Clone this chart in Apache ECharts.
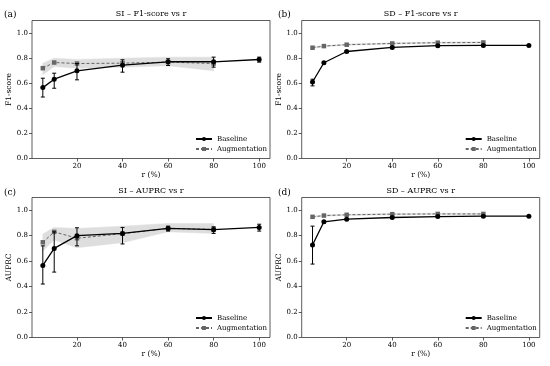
<!DOCTYPE html>
<html>
<head>
<meta charset="utf-8">
<script src="https://cdn.jsdelivr.net/npm/echarts@6/dist/echarts.min.js"></script>
<style>html,body{margin:0;padding:0;background:#fff}#c{width:550px;height:366px}</style>
</head>
<body>
<div id="c"></div>
<script>
// ---- data ----
const r = [5, 10, 20, 40, 60, 80, 100];
const rAug = [5, 10, 20, 40, 60, 80];
const xTicks = [20, 40, 60, 80, 100];
const yTicks = [0, 0.2, 0.4, 0.6, 0.8, 1.0];

// (a) SI F1
const siF1Base   = [0.565, 0.632, 0.699, 0.744, 0.771, 0.771, 0.789];
const siF1BaseLo = [0.490, 0.560, 0.627, 0.688, 0.741, 0.728, 0.768];
const siF1BaseHi = [0.640, 0.680, 0.757, 0.787, 0.795, 0.808, 0.808];
const siF1Aug    = [0.720, 0.765, 0.757, 0.760, 0.768, 0.757];
const siF1AugLo  = [0.667, 0.733, 0.720, 0.728, 0.739, 0.700];
const siF1AugHi  = [0.760, 0.800, 0.790, 0.800, 0.808, 0.808];
// (b) SD F1
const sdF1Base   = [0.610, 0.763, 0.853, 0.885, 0.899, 0.901, 0.901];
const sdF1BaseLo = [0.579, 0.756, 0.848, 0.879, 0.894, 0.896, 0.896];
const sdF1BaseHi = [0.632, 0.770, 0.858, 0.891, 0.904, 0.906, 0.906];
const sdF1Aug    = [0.883, 0.896, 0.907, 0.917, 0.923, 0.925];
const sdF1AugLo  = [0.877, 0.891, 0.902, 0.912, 0.918, 0.920];
const sdF1AugHi  = [0.889, 0.901, 0.912, 0.922, 0.928, 0.930];
// (c) SI AUPRC
const siAuBase   = [0.566, 0.700, 0.800, 0.818, 0.857, 0.847, 0.865];
const siAuBaseLo = [0.420, 0.514, 0.720, 0.735, 0.836, 0.818, 0.836];
const siAuBaseHi = [0.720, 0.830, 0.862, 0.865, 0.875, 0.870, 0.890];
const siAuAug    = [0.748, 0.830, 0.780, 0.816, 0.857, 0.850];
const siAuAugLo  = [0.680, 0.766, 0.706, 0.745, 0.830, 0.818];
const siAuAugHi  = [0.813, 0.865, 0.857, 0.875, 0.896, 0.896];
// (d) SD AUPRC
const sdAuBase   = [0.727, 0.909, 0.930, 0.943, 0.950, 0.953, 0.953];
const sdAuBaseLo = [0.577, 0.900, 0.925, 0.938, 0.946, 0.949, 0.949];
const sdAuBaseHi = [0.875, 0.918, 0.935, 0.948, 0.955, 0.957, 0.957];
const sdAuAug    = [0.948, 0.958, 0.964, 0.969, 0.971, 0.971];
const sdAuAugLo  = [0.943, 0.953, 0.959, 0.964, 0.966, 0.966];
const sdAuAugHi  = [0.953, 0.963, 0.969, 0.974, 0.976, 0.976];

const panels = [
  {tag: '(a)', title: 'SI – F1-score vs r', yName: 'F1-score', base: siF1Base, bLo: siF1BaseLo, bHi: siF1BaseHi, aug: siF1Aug, aLo: siF1AugLo, aHi: siF1AugHi},
  {tag: '(b)', title: 'SD – F1-score vs r', yName: 'F1-score', base: sdF1Base, bLo: sdF1BaseLo, bHi: sdF1BaseHi, aug: sdF1Aug, aLo: sdF1AugLo, aHi: sdF1AugHi},
  {tag: '(c)', title: 'SI – AUPRC vs r', yName: 'AUPRC', base: siAuBase, bLo: siAuBaseLo, bHi: siAuBaseHi, aug: siAuAug, aLo: siAuAugLo, aHi: siAuAugHi},
  {tag: '(d)', title: 'SD – AUPRC vs r', yName: 'AUPRC', base: sdAuBase, bLo: sdAuBaseLo, bHi: sdAuBaseHi, aug: sdAuAug, aLo: sdAuAugLo, aHi: sdAuAugHi}
];

// ---- layout ----
const FONT = 'DejaVu Serif';
const boxes = [
  {left: 32, top: 20.5, width: 238, height: 138},
  {left: 301.7, top: 20.5, width: 238, height: 138},
  {left: 32, top: 197.5, width: 238, height: 140},
  {left: 301.7, top: 197.5, width: 238, height: 140}
];
const tagPos = [[4, 10.5], [278, 10.5], [4, 188.5], [278, 188.5]];

const grid = [], xAxis = [], yAxis = [], series = [], title = [], legend = [];

panels.forEach((p, i) => {
  const b = boxes[i];
  grid.push({left: b.left, top: b.top, width: b.width, height: b.height, show: true,
    borderColor: '#333', borderWidth: 0.8, backgroundColor: 'transparent', containLabel: false});
  xAxis.push({type: 'value', gridIndex: i, min: 0.25, max: 104.75,
    name: 'r (%)', nameLocation: 'middle', nameGap: 13,
    nameTextStyle: {fontFamily: FONT, fontSize: 7.5, color: '#000'},
    axisLine: {show: false}, splitLine: {show: false},
    axisTick: {show: true, length: 3, lineStyle: {color: '#333', width: 0.8}, customValues: xTicks},
    axisLabel: {fontFamily: FONT, fontSize: 7, color: '#000', margin: 4, customValues: xTicks}
  });
  yAxis.push({type: 'value', gridIndex: i, min: 0, max: 1.1,
    name: p.yName, nameLocation: 'middle', nameGap: 19,
    nameTextStyle: {fontFamily: FONT, fontSize: 7.5, color: '#000'},
    axisLine: {show: false}, splitLine: {show: false},
    axisTick: {show: true, length: 3, lineStyle: {color: '#333', width: 0.8}, customValues: yTicks},
    axisLabel: {fontFamily: FONT, fontSize: 7, color: '#000', margin: 4, customValues: yTicks,
      formatter: v => v.toFixed(1)}
  });
  title.push({text: p.title, left: b.left + b.width / 2, top: b.top - 11, textAlign: 'center', padding: 0,
    textStyle: {fontFamily: FONT, fontSize: 8, fontWeight: 'normal', color: '#000'}});
  title.push({text: p.tag, left: tagPos[i][0], top: tagPos[i][1], padding: 0,
    textStyle: {fontFamily: FONT, fontSize: 9, fontWeight: 'normal', color: '#000'}});

  // band (augmentation spread)
  const bandData = [];
  for (let k = 0; k < rAug.length - 1; k++) {
    bandData.push([rAug[k], p.aLo[k], p.aHi[k], rAug[k + 1], p.aLo[k + 1], p.aHi[k + 1]]);
  }
  series.push({type: 'custom', name: 'band' + i, xAxisIndex: i, yAxisIndex: i, z: 1, silent: true,
    data: bandData,
    renderItem: (params, api) => {
      const a1 = api.coord([api.value(0), api.value(1)]);
      const a2 = api.coord([api.value(0), api.value(2)]);
      const b1 = api.coord([api.value(3), api.value(4)]);
      const b2 = api.coord([api.value(3), api.value(5)]);
      return {type: 'polygon', shape: {points: [a1, b1, b2, a2]},
        style: {fill: '#dedede', stroke: '#dedede', lineWidth: 0.5}};
    }
  });

  // augmentation line
  series.push({type: 'line', name: 'Augmentation', xAxisIndex: i, yAxisIndex: i, z: 3,
    data: rAug.map((x, k) => [x, p.aug[k]]),
    symbol: 'rect', symbolSize: 4.5, showSymbol: true,
    itemStyle: {color: '#666'},
    lineStyle: {color: '#666', width: 1, type: [3, 2]}
  });

  // baseline error bars
  series.push({type: 'custom', name: 'err' + i, xAxisIndex: i, yAxisIndex: i, z: 4, silent: true,
    data: r.map((x, k) => [x, p.bLo[k], p.bHi[k]]),
    renderItem: (params, api) => {
      const lo = api.coord([api.value(0), api.value(1)]);
      const hi = api.coord([api.value(0), api.value(2)]);
      const w = 2;
      const st = {stroke: '#000', lineWidth: 1};
      return {type: 'group', children: [
        {type: 'line', shape: {x1: lo[0], y1: lo[1], x2: hi[0], y2: hi[1]}, style: st},
        {type: 'line', shape: {x1: lo[0] - w, y1: lo[1], x2: lo[0] + w, y2: lo[1]}, style: st},
        {type: 'line', shape: {x1: hi[0] - w, y1: hi[1], x2: hi[0] + w, y2: hi[1]}, style: st}
      ]};
    }
  });

  // baseline line
  series.push({type: 'line', name: 'Baseline', xAxisIndex: i, yAxisIndex: i, z: 5,
    data: r.map((x, k) => [x, p.base[k]]),
    symbol: 'circle', symbolSize: 5, showSymbol: true,
    itemStyle: {color: '#000'},
    lineStyle: {color: '#000', width: 1.3}
  });

  legend.push({data: ['Baseline', 'Augmentation'], orient: 'vertical',
    left: b.left + b.width - 75, top: b.top + b.height - 23,
    itemWidth: 16, itemHeight: 5, itemGap: 3, padding: 0, selectedMode: false,
    textStyle: {fontFamily: FONT, fontSize: 7, color: '#000'}
  });
});

const chart = echarts.init(document.getElementById('c'), null, {renderer: 'canvas'});
chart.setOption({animation: false, backgroundColor: '#fff', title, legend, grid, xAxis, yAxis, series});
</script>
</body>
</html>
